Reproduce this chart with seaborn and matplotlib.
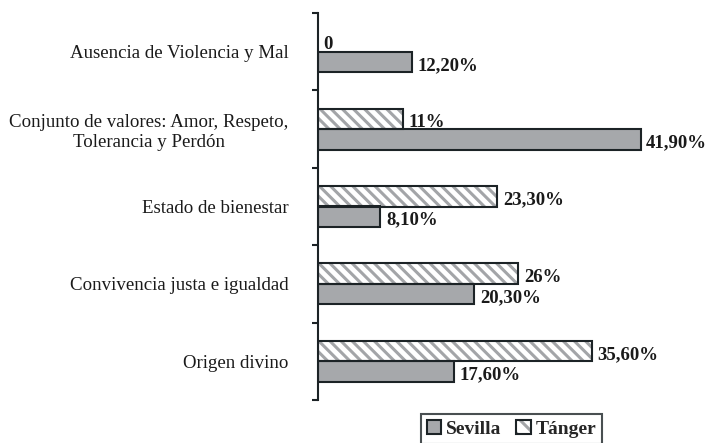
import matplotlib as mpl
import matplotlib.pyplot as plt
from matplotlib.patches import Patch, Rectangle
import seaborn as sb
import pandas as pd

mpl.use('Agg')

# data
categories = ['Ausencia de Violencia y Mal',
              'Conjunto de valores: Amor, Respeto,\nTolerancia y Perdón',
              'Estado de bienestar',
              'Convivencia justa e igualdad',
              'Origen divino']
sevilla = [12.2, 41.9, 8.1, 20.3, 17.6]
tanger = [0, 11, 23.3, 26, 35.6]
sevilla_labels = ['12,20%', '41,90%', '8,10%', '20,30%', '17,60%']
tanger_labels = ['0', '11%', '23,30%', '26%', '35,60%']
series = ['Tánger', 'Sevilla']

grey = '#a6a8ab'
dark = '#1c2326'
hatch_grey = '#a3a5a8'

sb.set_theme(style="white")
plt.rcParams['font.family'] = ['Liberation Serif', 'DejaVu Serif']
plt.rcParams['hatch.linewidth'] = 2.2

df = pd.DataFrame({
    'categoria': categories * 2,
    'serie': [series[0]] * len(categories) + [series[1]] * len(categories),
    'valor': tanger + sevilla,
})

fig = plt.figure(figsize=(7.06, 4.43), dpi=100)
ax = fig.add_axes([318 / 706, 1 - 400 / 443, 1 - 318 / 706, 387 / 443])

sb.barplot(data=df, y='categoria', x='valor', hue='serie', hue_order=series,
           palette={'Tánger': 'white', 'Sevilla': grey}, saturation=1,
           width=0.53, orient='h', errorbar=None, legend=False,
           edgecolor=dark, linewidth=1.5, ax=ax)

# hatched bars: grey hatch, dark outline drawn on top
for p in ax.containers[0]:
    p.set_hatch('\\\\\\')
    p.set_edgecolor(hatch_grey)
    p.set_linewidth(0)
    if p.get_width() > 0:
        ax.add_patch(Rectangle(p.get_xy(), p.get_width(), p.get_height(),
                               fill=False, edgecolor=dark, linewidth=1.5))

texts = ax.bar_label(ax.containers[0], labels=tanger_labels, padding=4,
                     fontsize=13.5, fontweight='bold', color='#1a1a1a')
texts += ax.bar_label(ax.containers[1], labels=sevilla_labels, padding=4,
                      fontsize=13.5, fontweight='bold', color='#1a1a1a')
for t in texts:
    t.xyann = (t.xyann[0], -2.5)

ax.set_xlim(0, 388 / 7.7)
ax.set_ylim(len(categories) - 0.5, -0.5)
ax.set_xticks([])
ax.set_xlabel('')
ax.set_ylabel('')
sb.despine(ax=ax, bottom=True)
ax.spines['left'].set_color(dark)
ax.spines['left'].set_linewidth(1.5)

# category labels at centres, ticks at boundaries
ax.tick_params(axis='y', which='major', length=0, pad=21, labelsize=13.6,
               labelcolor='#1a1a1a')
ax.set_yticks([i - 0.5 for i in range(len(categories) + 1)], minor=True)
ax.tick_params(axis='y', which='minor', left=True, length=4.5, width=1.5,
               color=dark, direction='out')
for lab in ax.get_yticklabels():
    lab.set_multialignment('center')

handles = [Patch(facecolor=grey, edgecolor=dark, linewidth=1.5),
           (Patch(facecolor='white', edgecolor=hatch_grey, hatch='\\\\', linewidth=0),
            Patch(fill=False, edgecolor=dark, linewidth=1.5))]
leg = fig.legend(handles, ['Sevilla', 'Tánger'], loc='upper left',
                 bbox_to_anchor=(421 / 706, 1 - 414 / 443), ncol=2,
                 frameon=True, fancybox=False, edgecolor=dark,
                 prop={'size': 14, 'weight': 'bold'}, handlelength=0.75,
                 handleheight=0.75, handletextpad=0.25, columnspacing=0.75,
                 borderpad=0.3, borderaxespad=0)
leg.get_frame().set_linewidth(1.5)

fig.savefig('out.png', dpi=100)
